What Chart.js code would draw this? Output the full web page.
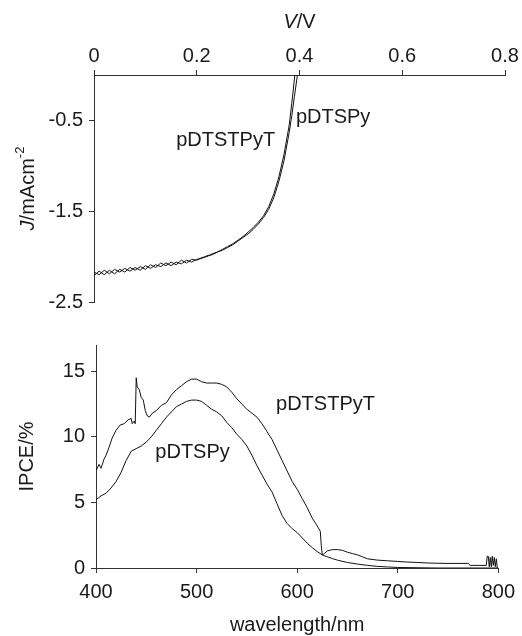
<!DOCTYPE html>
<html>
<head>
<meta charset="utf-8">
<script src="https://cdn.jsdelivr.net/npm/chart.js@4.4.1/dist/chart.umd.min.js"></script>
<style>
html, body { margin: 0; padding: 0; background: #fff; }
#wrap { position: relative; width: 522px; height: 636px; }
canvas { position: absolute; left: 0; }
#jv { top: 0; }
#ipce { top: 320px; }
</style>
</head>
<body>
<div id="wrap">
  <canvas id="jv" width="522" height="320"></canvas>
  <canvas id="ipce" width="522" height="316"></canvas>
</div>
<script>
// J-V curves (V in volts, J in mA cm-2)
const vPyT = [0, 0.01, 0.02, 0.03, 0.04, 0.05, 0.06, 0.07, 0.08, 0.09, 0.10, 0.11, 0.12, 0.13, 0.14, 0.15, 0.16, 0.17, 0.18, 0.19, 0.20,
  0.21, 0.22, 0.23, 0.24, 0.25, 0.26, 0.27, 0.28, 0.29, 0.30, 0.31, 0.32, 0.33, 0.34, 0.35, 0.36, 0.37, 0.38, 0.385, 0.391];
const jPyT = [-2.17, -2.20, -2.15, -2.19, -2.14, -2.17, -2.13, -2.16, -2.12, -2.15, -2.10, -2.13, -2.09, -2.11, -2.07, -2.10, -2.06, -2.08, -2.04, -2.06, -2.03,
  -2.02, -1.99, -1.98, -1.95, -1.92, -1.89, -1.86, -1.82, -1.78, -1.73, -1.68, -1.62, -1.55, -1.45, -1.31, -1.12, -0.87, -0.55, -0.31, 0.0];
const vPy = [0, 0.01, 0.02, 0.03, 0.04, 0.05, 0.06, 0.07, 0.08, 0.09, 0.10, 0.11, 0.12, 0.13, 0.14, 0.15, 0.16, 0.17, 0.18, 0.19, 0.20,
  0.21, 0.22, 0.23, 0.24, 0.25, 0.26, 0.27, 0.28, 0.29, 0.30, 0.31, 0.32, 0.33, 0.34, 0.35, 0.36, 0.37, 0.38, 0.385, 0.39, 0.396];
const jPy = [-2.21, -2.16, -2.20, -2.15, -2.19, -2.14, -2.17, -2.12, -2.15, -2.11, -2.14, -2.09, -2.12, -2.07, -2.10, -2.06, -2.09, -2.04, -2.07, -2.03, -2.04,
  -2.01, -2.00, -1.97, -1.95, -1.93, -1.90, -1.87, -1.83, -1.79, -1.75, -1.70, -1.64, -1.57, -1.48, -1.35, -1.17, -0.94, -0.63, -0.45, -0.24, 0.0];

// IPCE spectra (wavelength in nm, IPCE in %)
const wlPyT = [400, 403, 405, 408, 410, 413, 416, 420, 424, 428, 432, 435, 436, 438, 439, 440, 441, 443, 445, 447, 449, 451, 453, 456, 460,
  465, 470, 475, 480, 485, 490, 495, 500, 505, 510, 515, 520, 525, 530, 535, 540, 545, 550, 555, 560, 565, 570, 575, 580, 585, 590, 595,
  600, 605, 610, 615, 620, 623, 624, 625, 627, 630, 635, 640, 645, 650, 655, 660, 665, 670, 680, 690, 700, 710, 720, 730, 740, 750, 760,
  770, 772, 780, 788, 789, 790, 791, 792, 793, 794, 795, 796, 797, 798, 799, 800];
const ipcePyT = [7.4, 7.9, 7.6, 8.3, 8.6, 9.2, 9.9, 10.5, 10.9, 11.0, 11.3, 11.4, 11.0, 11.2, 11.0, 14.5, 13.8, 13.6, 13.0, 12.8, 12.0, 11.6, 11.5, 11.8, 12.0,
  12.4, 12.6, 13.2, 13.6, 13.9, 14.2, 14.4, 14.4, 14.2, 14.1, 14.1, 14.1, 14.0, 13.8, 13.4, 12.9, 12.5, 12.1, 11.8, 11.5, 11.0, 10.4, 9.8, 9.0, 8.2, 7.4, 6.6,
  6.0, 5.3, 4.6, 3.8, 3.2, 2.8, 1.7, 1.0, 1.1, 1.3, 1.4, 1.4, 1.35, 1.2, 1.1, 1.0, 0.85, 0.7, 0.6, 0.55, 0.5, 0.45, 0.42, 0.38, 0.36, 0.35, 0.35,
  0.35, 0.2, 0.2, 0.2, 0.9, 0.9, 0.1, 0.8, 0.1, 0.9, 0.2, 0.8, 0.1, 0.7, 0.0, 0.0];
const wlPy = [400, 405, 410, 415, 420, 425, 430, 435, 440, 445, 450, 455, 460, 465, 470, 475, 480, 485, 490, 495, 500, 505, 510, 515, 520,
  525, 530, 535, 540, 545, 550, 555, 560, 565, 570, 575, 580, 585, 590, 595, 600, 605, 610, 615, 620, 625, 630, 635, 640, 650, 660, 670,
  680, 690, 700, 720, 740, 760, 780, 800];
const ipcePy = [5.2, 5.5, 5.7, 6.1, 6.6, 7.3, 8.2, 8.9, 9.1, 9.3, 9.6, 10.0, 10.5, 11.0, 11.5, 11.9, 12.3, 12.5, 12.7, 12.8, 12.8, 12.7, 12.4, 12.1, 11.9,
  11.6, 11.1, 10.7, 10.2, 9.8, 9.3, 8.6, 7.8, 7.1, 6.4, 5.8, 4.9, 4.0, 3.4, 3.0, 2.7, 2.3, 1.9, 1.55, 1.25, 1.0, 0.85, 0.72, 0.6, 0.42, 0.3, 0.2,
  0.12, 0.08, 0.04, 0.02, 0.0, 0.0, 0.0, 0.0];

const vTicks = [0, 0.2, 0.4, 0.6, 0.8];
const jTicks = [-2.5, -1.5, -0.5];
const wlTicks = [400, 500, 600, 700, 800];
const ipceTicks = [0, 5, 10, 15];

const ink = '#1a1a1a';
const face = '"Liberation Sans", Arial, Helvetica, sans-serif';
Chart.defaults.font.family = face;
Chart.defaults.font.size = 20;
Chart.defaults.color = ink;

function pts(xs, ys) {
  return xs.map((x, i) => ({ x: x, y: ys[i] }));
}

function fontFor(p) {
  return (p.i ? 'italic ' : '') + (p.sup ? 13 : 20) + 'px ' + face;
}

// axis titles with mixed italic / superscript pieces
function drawRich(ctx, parts, x, y, angle) {
  ctx.save();
  ctx.translate(x, y);
  ctx.rotate(angle);
  ctx.textBaseline = 'middle';
  ctx.textAlign = 'left';
  ctx.fillStyle = ink;
  let total = 0;
  parts.forEach(p => { ctx.font = fontFor(p); total += ctx.measureText(p.t).width; });
  let cx = -total / 2;
  parts.forEach(p => {
    ctx.font = fontFor(p);
    ctx.fillText(p.t, cx, p.sup ? -8 : 0);
    cx += ctx.measureText(p.t).width;
  });
  ctx.restore();
}

const decor = {
  id: 'decor',
  afterDraw(chart, args, opts) {
    const ctx = chart.ctx;
    const a = chart.chartArea;
    const xs = chart.scales.x, ys = chart.scales.y;
    opts.tags.forEach(t => {
      ctx.save();
      ctx.font = '20px ' + face;
      ctx.fillStyle = ink;
      ctx.textBaseline = 'middle';
      ctx.textAlign = 'left';
      ctx.fillText(t.text, xs.getPixelForValue(t.x), ys.getPixelForValue(t.y));
      ctx.restore();
    });
    if (opts.xTitle) {
      const ty = opts.xTitleTop ? a.top - opts.xTitleGap : a.bottom + opts.xTitleGap;
      drawRich(ctx, opts.xTitle, (a.left + a.right) / 2, ty, 0);
    }
    drawRich(ctx, opts.yTitle, a.left - opts.yTitleGap, (a.top + a.bottom) / 2, -Math.PI / 2);
  }
};

function axis(min, max, ticks, pos, size, pad) {
  const horiz = pos === 'top' || pos === 'bottom';
  return {
    type: 'linear',
    position: pos,
    min: min,
    max: max,
    afterBuildTicks: s => { s.ticks = ticks.map(v => ({ value: v })); },
    afterFit: s => { if (horiz) s.height = size; else s.width = size; },
    grid: { display: true, drawOnChartArea: false, drawTicks: true, tickLength: 5, color: '#333' },
    border: { display: true, color: '#333', width: 1 },
    ticks: { padding: pad, color: ink, font: { size: 20 }, maxRotation: 0, autoSkip: false }
  };
}

function line(data) {
  return { data: data, borderColor: '#111', borderWidth: 1, pointRadius: 0, tension: 0, fill: false };
}

new Chart(document.getElementById('jv'), {
  type: 'line',
  data: {
    datasets: [
      line(pts(vPyT, jPyT)),
      line(pts(vPy, jPy))
    ]
  },
  options: {
    responsive: false,
    animation: false,
    layout: { padding: { left: 0, right: 17, top: 0, bottom: 14 } },
    plugins: {
      legend: { display: false },
      tooltip: { enabled: false },
      decor: {
        tags: [
          { text: 'pDTSPy', x: 0.393, y: -0.47 },
          { text: 'pDTSTPyT', x: 0.160, y: -0.72 }
        ],
        xTitle: [{ t: 'V', i: true }, { t: '/V' }],
        xTitleTop: true,
        xTitleGap: 53,
        yTitle: [{ t: 'J', i: true }, { t: '/mAcm' }, { t: '-2', sup: true }],
        yTitleGap: 66
      }
    },
    scales: {
      x: axis(0, 0.8, vTicks, 'top', 75, 2),
      y: axis(-2.5, 0, jTicks, 'left', 94, 6)
    }
  },
  plugins: [decor]
});

new Chart(document.getElementById('ipce'), {
  type: 'line',
  data: {
    datasets: [
      line(pts(wlPyT, ipcePyT)),
      line(pts(wlPy, ipcePy))
    ]
  },
  options: {
    responsive: false,
    animation: false,
    layout: { padding: { left: 0, right: 19, top: 25, bottom: 0 } },
    plugins: {
      legend: { display: false },
      tooltip: { enabled: false },
      decor: {
        tags: [
          { text: 'pDTSTPyT', x: 579, y: 12.5 },
          { text: 'pDTSPy', x: 459, y: 8.8 }
        ],
        xTitle: [{ t: 'wavelength/nm' }],
        xTitleTop: false,
        xTitleGap: 57,
        yTitle: [{ t: 'IPCE/%' }],
        yTitleGap: 69
      }
    },
    scales: {
      x: axis(400, 800, wlTicks, 'bottom', 68, 7),
      y: axis(0, 17, ipceTicks, 'left', 96, 6)
    }
  },
  plugins: [decor]
});
</script>
</body>
</html>
